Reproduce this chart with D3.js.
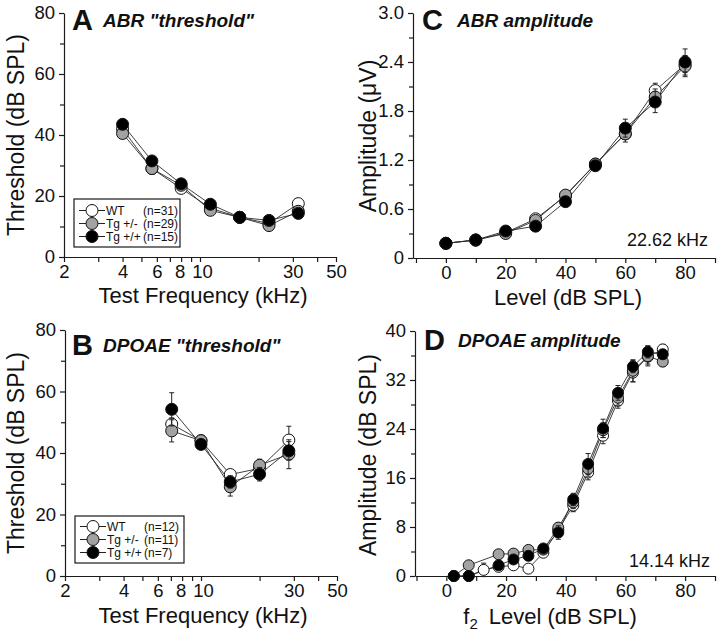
<!DOCTYPE html>
<html><head><meta charset="utf-8">
<script src="https://cdn.jsdelivr.net/npm/d3@7"></script>
<style>
body{margin:0;background:#fff}
svg{display:block}
text{font-family:"Liberation Sans",Arial,Helvetica,sans-serif;fill:#111}
</style>
</head><body>
<svg id="chart" width="720" height="633"></svg>
<script>
// ---------- DATA ----------
const groupNames = ["WT", "Tg +/-", "Tg +/+"];
const abrN = ["(n=31)", "(n=29)", "(n=15)"];
const dpN = ["(n=12)", "(n=11)", "(n=7)"];

// Panel A: ABR threshold
const abrFreq = [4, 5.66, 8, 11.31, 16, 22.62, 32];
const abrThrWT  = [42, 29, 22.5, 16, 13, 11, 17.5];
const abrThrHet = [40.5, 29, 23.5, 15.3, 13, 10.3, 15];
const abrThrHom = [43.5, 31.5, 24, 17.3, 13, 12, 14.3];
const abrThrErr = [1, 1, 1, 1, 1, 1, 1];

// Panel B: DPOAE threshold
const dpFreq = [7.07, 10, 14.14, 20, 28.28];
const dpThrWT  = [49.4, 44, 33, 35, 44.2];
const dpThrHet = [47.2, 44, 29, 36, 39.6];
const dpThrHom = [54.2, 42.8, 30.6, 33.1, 40.7];
const dpThrErrWT  = [2, 1, 1.5, 1.5, 4.5];
const dpThrErrHet = [3.6, 1, 3, 2, 4.7];
const dpThrErrHom = [5.4, 1, 2, 2.2, 3];

// Panel C: ABR amplitude (22.62 kHz)
const abrLevel = [0, 10, 20, 30, 40, 50, 60, 70, 80];
const abrAmpWT  = [0.18, 0.22, 0.31, 0.48, 0.76, 1.15, 1.52, 2.05, 2.37];
const abrAmpHet = [0.18, 0.22, 0.30, 0.46, 0.77, 1.15, 1.52, 1.97, 2.35];
const abrAmpHom = [0.18, 0.22, 0.33, 0.39, 0.69, 1.13, 1.59, 1.91, 2.40];
const abrAmpErrWT  = [0.02, 0.02, 0.02, 0.03, 0.04, 0.05, 0.06, 0.09, 0.1];
const abrAmpErrHet = [0.02, 0.02, 0.02, 0.03, 0.04, 0.05, 0.1, 0.1, 0.13];
const abrAmpErrHom = [0.02, 0.02, 0.02, 0.03, 0.04, 0.05, 0.11, 0.13, 0.16];

// Panel D: DPOAE amplitude (14.14 kHz)
const dpLevel = [2.5, 7.5, 12.5, 17.5, 22.5, 27.5, 32.5, 37.5, 42.5, 47.5, 52.5, 57.5, 62.5, 67.5, 72.5];
const dpAmpWT  = [0, 0, 1.0, 1.5, 1.75, 1.2, 3.8, 7.5, 11.5, 16.9, 22.9, 28.6, 33.2, 35.8, 37];
const dpAmpHet = [0, 1.75, null, 3.55, 3.66, 4.26, 4.3, 7.9, 12, 17.5, 23.8, 29.1, 33.5, 35.9, 35];
const dpAmpHom = [0, 0, null, 1.75, 2.7, 3.3, 4.5, 7.1, 12.5, 18.3, 24.1, 29.9, 34.2, 36.6, 36.2];
const dpAmpErrWT  = [0, 0, 1.1, 0.5, 0.5, 0.5, 0.5, 0.8, 1, 1.2, 1.3, 1.2, 1.5, 1.2, 0.8];
const dpAmpErrHet = [0, 0.5, null, 0.5, 0.5, 0.5, 0.5, 0.8, 1, 1.2, 1.2, 1.2, 1.8, 1.6, 0.8];
const dpAmpErrHom = [0, 0, null, 0.5, 0.5, 0.5, 0.6, 1.1, 1, 1.7, 1.5, 1.2, 1, 1, 0.8];

const logTicks = [2, 3, 4, 5, 6, 7, 8, 9, 10, 20, 30, 40, 50];
const logLabels = [2, 4, 6, 8, 10, 30, 50];

// ---------- DRAW ----------
const svg = d3.select("#chart");
const fills = ["#ffffff", "#a2a2a2", "#000000"];
const AX = "#1a1a1a";

function styleAxis(sel) {
  sel.selectAll("path").attr("stroke", AX).attr("stroke-width", 1.2);
  sel.selectAll("line").attr("stroke", AX).attr("stroke-width", 1.2);
  sel.selectAll("text").style("font-size", "18.5px").attr("fill", "#111");
  sel.selectAll("text").filter(function () { return this.textContent === ""; }).remove();
}

function panel(o) {
  const g = svg.append("g");
  const x = o.x, y = o.y;
  const y0 = y.range()[0], x0 = x.range()[0];

  // x axis
  const xa = g.append("g").attr("transform", `translate(0,${y0})`)
    .call(d3.axisBottom(x).tickValues(o.xTicks).tickSize(5).tickSizeOuter(0).tickPadding(3)
      .tickFormat(d => o.xLabels.includes(d) ? o.xFmt(d) : ""));
  styleAxis(xa);
  if (o.nudge) xa.selectAll("text").attr("dx", d => (o.nudge[d] || 0));
  // y axis major
  const ya = g.append("g").attr("transform", `translate(${x0},0)`)
    .call(d3.axisLeft(y).tickValues(o.yTicks).tickSize(5).tickSizeOuter(0).tickPadding(4).tickFormat(o.yFmt));
  styleAxis(ya);
  const ym = g.append("g").attr("transform", `translate(${x0},0)`)
    .call(d3.axisLeft(y).tickValues(o.yMinor).tickSize(4).tickSizeOuter(0).tickFormat(""));
  styleAxis(ym);
  ym.select("path").remove();

  // series
  const series = o.series.map((vals, k) => o.xs.map((xv, i) => ({x: xv, y: vals[i], e: o.errs[k][i]}))
    .filter(d => d.y !== null && d.y !== undefined));

  const line = d3.line().x(d => x(d.x)).y(d => y(d.y));
  series.forEach(s => {
    g.append("path").datum(s).attr("d", line).attr("fill", "none")
      .attr("stroke", "#2a2a2a").attr("stroke-width", 0.9);
  });
  series.forEach((s, k) => {
    const eb = g.append("g");
    s.filter(d => d.e).forEach(d => {
      const cx = x(d.x);
      eb.append("line").attr("x1", cx).attr("x2", cx).attr("y1", y(d.y - d.e)).attr("y2", y(d.y + d.e))
        .attr("stroke", "#222").attr("stroke-width", 1);
      [d.y - d.e, d.y + d.e].forEach(v => {
        eb.append("line").attr("x1", cx - 2.5).attr("x2", cx + 2.5).attr("y1", y(v)).attr("y2", y(v))
          .attr("stroke", "#222").attr("stroke-width", 1);
      });
    });
    g.append("g").selectAll("circle").data(s).join("circle")
      .attr("cx", d => x(d.x)).attr("cy", d => y(d.y)).attr("r", o.r)
      .attr("fill", fills[k]).attr("stroke", "#111").attr("stroke-width", 1);
  });

  // panel letter and title
  g.append("text").attr("x", o.letterX).attr("y", o.letterY).text(o.letter)
    .style("font-size", "29px").style("font-weight", "bold");
  g.append("text").attr("x", o.titleX).attr("y", o.letterY - 3).text(o.title)
    .style("font-size", "19px").style("font-weight", "bold").style("font-style", "italic");

  // axis titles
  const xt = g.append("text").attr("x", o.xTitleX).attr("y", o.xTitleY).attr("text-anchor", "middle")
    .style("font-size", "22px");
  if (o.xTitleSub) {
    xt.append("tspan").text("f");
    xt.append("tspan").text("2").style("font-size", "15px").attr("dy", 5);
    xt.append("tspan").text("\u2002Level (dB SPL)").attr("dy", -5);
  } else xt.text(o.xTitle);
  g.append("text").attr("transform", `translate(${o.yTitleX},${o.yTitleY}) rotate(-90)`)
    .attr("text-anchor", "middle").style("font-size", "23px").text(o.yTitle);

  if (o.note) {
    g.append("text").attr("x", o.noteX).attr("y", o.noteY).attr("text-anchor", "end")
      .style("font-size", "18px").text(o.note);
  }

  if (o.legend) {
    const L = o.legend;
    g.append("rect").attr("x", L.x).attr("y", L.y).attr("width", L.w).attr("height", L.h)
      .attr("fill", "#fff").attr("stroke", "#1a1a1a").attr("stroke-width", 1.2);
    groupNames.forEach((nm, k) => {
      const ry = L.y + L.row0 + k * L.dy;
      g.append("line").attr("x1", L.x + 5).attr("x2", L.x + 31).attr("y1", ry).attr("y2", ry)
        .attr("stroke", "#222").attr("stroke-width", 1);
      g.append("circle").attr("cx", L.x + 18).attr("cy", ry).attr("r", 6)
        .attr("fill", fills[k]).attr("stroke", "#111").attr("stroke-width", 1);
      g.append("text").attr("x", L.x + 32).attr("y", ry + 4.5).text(nm).style("font-size", "12px");
      g.append("text").attr("x", L.x + 69).attr("y", ry + 4.5).text(L.n[k]).style("font-size", "12px");
    });
  }
}

const fmtInt = d => String(d);
const logNudge = {8: -1.5, 10: 2};

// Panel A
panel({
  x: d3.scaleLog().domain([2, 50]).range([64, 336]),
  y: d3.scaleLinear().domain([0, 80]).range([257, 13]),
  xTicks: logTicks, xLabels: logLabels, xFmt: fmtInt, nudge: logNudge,
  yTicks: [0, 20, 40, 60, 80], yMinor: [10, 30, 50, 70], yFmt: fmtInt,
  xs: abrFreq, series: [abrThrWT, abrThrHet, abrThrHom], errs: [abrThrErr, abrThrErr, abrThrErr],
  r: 6, letter: "A", letterX: 72, letterY: 30, title: "ABR \"threshold\"", titleX: 103,
  xTitle: "Test Frequency (kHz)", xTitleX: 203, xTitleY: 303,
  yTitle: "Threshold (dB SPL)", yTitleX: 24, yTitleY: 135,
  legend: {x: 74, y: 199, w: 106, h: 48, row0: 11.5, dy: 13, n: abrN}
});

// Panel B
panel({
  x: d3.scaleLog().domain([2, 50]).range([65, 337]),
  y: d3.scaleLinear().domain([0, 80]).range([576, 330]),
  xTicks: logTicks, xLabels: logLabels, xFmt: fmtInt, nudge: logNudge,
  yTicks: [0, 20, 40, 60, 80], yMinor: [10, 30, 50, 70], yFmt: fmtInt,
  xs: dpFreq, series: [dpThrWT, dpThrHet, dpThrHom], errs: [dpThrErrWT, dpThrErrHet, dpThrErrHom],
  r: 6, letter: "B", letterX: 72, letterY: 355, title: "DPOAE \"threshold\"", titleX: 103,
  xTitle: "Test Frequency (kHz)", xTitleX: 203, xTitleY: 623,
  yTitle: "Threshold (dB SPL)", yTitleX: 24, yTitleY: 453,
  legend: {x: 75, y: 516, w: 109, h: 47, row0: 10.5, dy: 13, n: dpN}
});

// Panel C
panel({
  x: d3.scaleLinear().domain([-11, 90]).range([413, 715]),
  y: d3.scaleLinear().domain([0, 3]).range([258, 13]),
  xTicks: d3.range(-10, 91, 10), xLabels: [0, 20, 40, 60, 80], xFmt: fmtInt,
  yTicks: [0, 0.6, 1.2, 1.8, 2.4, 3.0], yMinor: [0.3, 0.9, 1.5, 2.1, 2.7],
  yFmt: d => d === 0 ? "0" : d3.format(".1f")(d),
  xs: abrLevel, series: [abrAmpWT, abrAmpHet, abrAmpHom], errs: [abrAmpErrWT, abrAmpErrHet, abrAmpErrHom],
  r: 6, letter: "C", letterX: 422, letterY: 30, title: "ABR amplitude", titleX: 457,
  xTitle: "Level (dB SPL)", xTitleX: 568, xTitleY: 305,
  yTitle: "Amplitude (\u03bcV)", yTitleX: 376, yTitleY: 136,
  note: "22.62 kHz", noteX: 708, noteY: 246
});

// Panel D
panel({
  x: d3.scaleLinear().domain([-10.5, 90]).range([415, 715]),
  y: d3.scaleLinear().domain([0, 40]).range([576, 331]),
  xTicks: d3.range(-10, 91, 10), xLabels: [0, 20, 40, 60, 80], xFmt: fmtInt,
  yTicks: [0, 8, 16, 24, 32, 40], yMinor: [4, 12, 20, 28, 36], yFmt: fmtInt,
  xs: dpLevel, series: [dpAmpWT, dpAmpHet, dpAmpHom], errs: [dpAmpErrWT, dpAmpErrHet, dpAmpErrHom],
  r: 5.5, letter: "D", letterX: 424, letterY: 350, title: "DPOAE amplitude", titleX: 458,
  xTitleSub: true, xTitleX: 550, xTitleY: 624,
  yTitle: "Amplitude (dB SPL)", yTitleX: 376, yTitleY: 455,
  note: "14.14 kHz", noteX: 710, noteY: 567
});
</script>
</body></html>
